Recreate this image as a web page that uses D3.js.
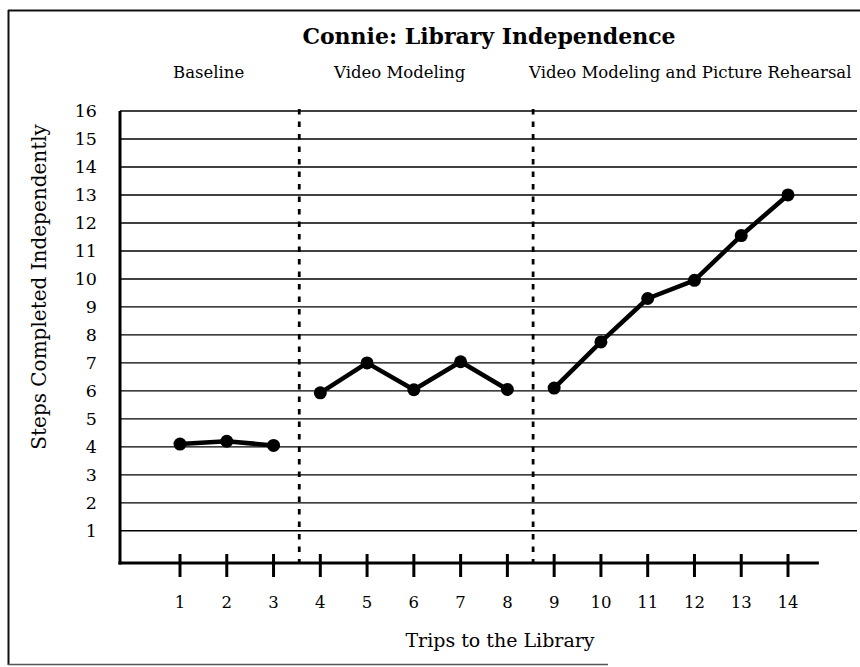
<!DOCTYPE html>
<html>
<head>
<meta charset="utf-8">
<script src="https://cdn.jsdelivr.net/npm/d3@7"></script>
<style>
  html, body { margin: 0; padding: 0; background: #fff; }
  svg { display: block; }
  text { font-family: "DejaVu Serif", "Liberation Serif", serif; fill: #000; }
</style>
</head>
<body>
<div id="chart"></div>
<script>
// chart data
const title = "Connie: Library Independence";
const xTitle = "Trips to the Library";
const yTitle = "Steps Completed Independently";
const trips = [1, 2, 3, 4, 5, 6, 7, 8, 9, 10, 11, 12, 13, 14];
const steps = [4.1, 4.2, 4.05, 5.93, 7.0, 6.04, 7.04, 6.05, 6.1, 7.75, 9.3, 9.95, 11.55, 13.0];
const yTicks = [1, 2, 3, 4, 5, 6, 7, 8, 9, 10, 11, 12, 13, 14, 15, 16];
const phaseNames = ["Baseline", "Video Modeling", "Video Modeling and Picture Rehearsal"];
const phaseFirstTrip = [1, 4, 9];
const phaseLastTrip = [3, 8, 14];
// where the phase change lines fall (between trips)
const phaseBreaks = [3.55, 8.55];

const width = 860, height = 667;

const svg = d3.select("#chart").append("svg")
  .attr("width", width)
  .attr("height", height);

const x = d3.scaleLinear().domain([1, 14]).range([180, 788]);
const y = d3.scaleLinear().domain([-0.15, 16]).range([563, 111]);

// scanned page frame (left, top and a partial bottom edge)
const frame = svg.append("g").attr("stroke", "#111").attr("fill", "none");
frame.append("line").attr("x1", 8.5).attr("x2", 8.5).attr("y1", 10).attr("y2", 665).attr("stroke-width", 2);
frame.append("line").attr("x1", 8).attr("x2", width).attr("y1", 10.5).attr("y2", 10.5).attr("stroke-width", 2);
frame.append("line").attr("x1", 8).attr("x2", 608).attr("y1", 664.5).attr("y2", 664.5)
  .attr("stroke-width", 1.5).attr("stroke", "#555");

// title
svg.append("text")
  .attr("x", 489)
  .attr("y", 44)
  .attr("text-anchor", "middle")
  .attr("font-size", 22)
  .attr("font-weight", "bold")
  .text(title);

// horizontal grid lines
svg.append("g")
  .selectAll("line")
  .data(yTicks)
  .join("line")
  .attr("x1", 120)
  .attr("x2", width - 3)
  .attr("y1", d => y(d))
  .attr("y2", d => y(d))
  .attr("stroke", "#000")
  .attr("stroke-width", 1.4);

// y tick labels
svg.append("g")
  .selectAll("text")
  .data(yTicks)
  .join("text")
  .attr("x", 97)
  .attr("y", d => y(d))
  .attr("dy", "0.36em")
  .attr("text-anchor", "end")
  .attr("font-size", 17.5)
  .text(d => d);

// y axis title
svg.append("text")
  .attr("transform", `translate(46, ${(y(16) + y(0)) / 2 - 48}) rotate(-90)`)
  .attr("text-anchor", "middle")
  .attr("font-size", 20)
  .text(yTitle);

// phase labels
svg.append("g")
  .selectAll("text")
  .data(phaseNames)
  .join("text")
  .attr("x", (d, i) => [173, 334, 529][i])
  .attr("y", 78)
  .attr("font-size", 16.5)
  .text(d => d);

// phase change lines
svg.append("g")
  .selectAll("line")
  .data(phaseBreaks)
  .join("line")
  .attr("x1", d => x(d))
  .attr("x2", d => x(d))
  .attr("y1", y(16) - 2)
  .attr("y2", y(-0.15))
  .attr("stroke", "#000")
  .attr("stroke-width", 2.8)
  .attr("stroke-dasharray", "5.5,7");

// axes
const axisY = y(-0.15);
svg.append("line")
  .attr("x1", 120).attr("x2", 120)
  .attr("y1", y(16)).attr("y2", axisY + 1.5)
  .attr("stroke", "#000").attr("stroke-width", 3);
svg.append("line")
  .attr("x1", 118.5).attr("x2", x(14.66))
  .attr("y1", axisY).attr("y2", axisY)
  .attr("stroke", "#000").attr("stroke-width", 3.2);

// x ticks crossing the axis
svg.append("g")
  .selectAll("line")
  .data(trips)
  .join("line")
  .attr("x1", d => x(d)).attr("x2", d => x(d))
  .attr("y1", axisY - 9).attr("y2", axisY + 14)
  .attr("stroke", "#000").attr("stroke-width", 3);

svg.append("g")
  .selectAll("text")
  .data(trips)
  .join("text")
  .attr("x", d => x(d))
  .attr("y", 608)
  .attr("text-anchor", "middle")
  .attr("font-size", 16.5)
  .text(d => d);

// x axis title
svg.append("text")
  .attr("x", 500)
  .attr("y", 647)
  .attr("text-anchor", "middle")
  .attr("font-size", 19)
  .text(xTitle);

// data, one line per phase
const points = trips.map((t, i) => ({ trip: t, value: steps[i] }));
const line = d3.line().x(d => x(d.trip)).y(d => y(d.value));

phaseNames.forEach((name, i) => {
  const seg = points.filter(p => p.trip >= phaseFirstTrip[i] && p.trip <= phaseLastTrip[i]);
  svg.append("path")
    .datum(seg)
    .attr("d", line)
    .attr("fill", "none")
    .attr("stroke", "#000")
    .attr("stroke-width", 4.5)
    .attr("stroke-linejoin", "round");
});

svg.append("g")
  .selectAll("circle")
  .data(points)
  .join("circle")
  .attr("cx", d => x(d.trip))
  .attr("cy", d => y(d.value))
  .attr("r", 6.5)
  .attr("fill", "#000");
</script>
</body>
</html>
